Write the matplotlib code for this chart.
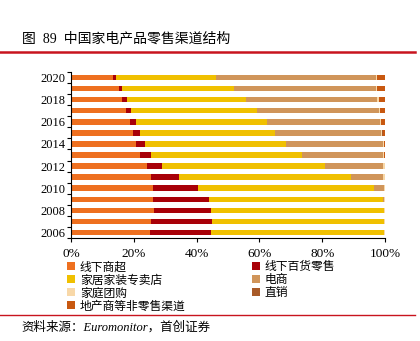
import numpy as np
import matplotlib
matplotlib.use("Agg")
import matplotlib.pyplot as plt
from matplotlib.patches import Patch
from matplotlib.lines import Line2D
from matplotlib.ticker import PercentFormatter

# 数据（%），年份从 2006 到 2020
years = [2006, 2007, 2008, 2009, 2010, 2011, 2012, 2013, 2014, 2015, 2016, 2017, 2018, 2019, 2020]
offline_super = [25.1, 25.6, 26.3, 26.1, 26.1, 25.6, 24.2, 21.9, 20.7, 19.7, 18.8, 17.5, 16.2, 15.2, 13.3]
dept_store = [19.4, 19.2, 18.3, 17.8, 14.3, 8.8, 4.8, 3.6, 2.9, 2.3, 1.9, 1.6, 1.6, 1.1, 1.0]
home_store = [55.2, 54.9, 55.1, 55.3, 56.0, 54.7, 51.8, 48.0, 44.7, 42.9, 41.6, 40.1, 37.8, 35.5, 31.8]
ecommerce = [0.0, 0.0, 0.0, 0.5, 3.1, 10.3, 18.6, 25.9, 30.9, 33.9, 36.0, 38.7, 41.9, 45.3, 51.0]
group_buy = [0.3, 0.3, 0.3, 0.3, 0.5, 0.6, 0.4, 0.3, 0.3, 0.3, 0.3, 0.4, 0.4, 0.3, 0.3]
direct = [0.0, 0.0, 0.0, 0.0, 0.0, 0.0, 0.0, 0.0, 0.1, 0.1, 0.1, 0.1, 0.1, 0.1, 0.1]
developer = [0.0, 0.0, 0.0, 0.0, 0.0, 0.0, 0.2, 0.3, 0.4, 0.8, 1.3, 1.6, 2.0, 2.5, 2.5]

names = ["线下商超", "线下百货零售", "家居家装专卖店", "电商", "家庭团购", "直销", "地产商等非零售渠道"]
colors = ["#EE7020", "#A80008", "#F0C000", "#D0955A", "#F8D8A8", "#A85A28", "#C85810"]
series = [offline_super, dept_store, home_store, ecommerce, group_buy, direct, developer]

cjk = ["Liberation Serif", "Noto Sans CJK SC"]

fig = plt.figure(figsize=(4.2, 3.41), dpi=100)
ax = fig.add_axes([0.169, 0.302, 0.748, 0.487])

y = np.arange(len(years))
left = np.zeros(len(years))
for vals, c in zip(series, colors):
    ax.barh(y, vals, left=left, height=0.5, color=c, linewidth=0)
    left += np.array(vals)

ax.set_xlim(0, 100)
ax.set_ylim(-0.5, len(years) - 0.5)
ax.xaxis.set_major_formatter(PercentFormatter(decimals=0))
ax.set_xticks([0, 20, 40, 60, 80, 100])

# y 轴：刻度在类别边界，标签隔年显示
ax.set_yticks(np.arange(-0.5, len(years), 1.0))
ax.set_yticklabels([])
ax.set_yticks(y[::2], minor=True)
ax.set_yticklabels([str(v) for v in years[::2]], minor=True, fontfamily="Liberation Serif", fontsize=9)
ax.tick_params(axis="y", which="minor", length=0, pad=4)
ax.tick_params(axis="y", which="major", length=3, width=0.8)
ax.tick_params(axis="x", length=3, width=0.8, labelsize=9.5, pad=4)
for lab in ax.get_xticklabels():
    lab.set_fontfamily("Liberation Serif")

for s in ["top", "right"]:
    ax.spines[s].set_visible(False)
ax.spines["left"].set_linewidth(0.8)
ax.spines["bottom"].set_linewidth(0.8)

# 图例（按行顺序排列）
order = [0, 2, 4, 6, 1, 3, 5]
handles = [Patch(facecolor=colors[i], edgecolor="none") for i in order]
labels = [names[i] for i in order]
fig.legend(handles, labels, ncol=2, loc="upper left", bbox_to_anchor=(0.148, 0.25),
           frameon=False, prop={"family": "Noto Sans CJK SC", "size": 8.5},
           handlelength=0.7, handleheight=0.7, handletextpad=0.4,
           columnspacing=5.6, labelspacing=0.0, borderaxespad=0)

# 标题与红线
fig.text(0.052, 0.887, "图  89  中国家电产品零售渠道结构", fontsize=10, family=cjk, va="center")
fig.add_artist(Line2D([0.0, 0.988], [0.847, 0.847], color="#C8141E", lw=1.8))
fig.add_artist(Line2D([0.0, 0.988], [0.076, 0.076], color="#C8141E", lw=1.0))
fig.text(0.052, 0.04, "资料来源：Euromonitor，首创证券", fontsize=9, family=cjk,
         style="italic", va="center")

fig.savefig("out.png", dpi=100)
